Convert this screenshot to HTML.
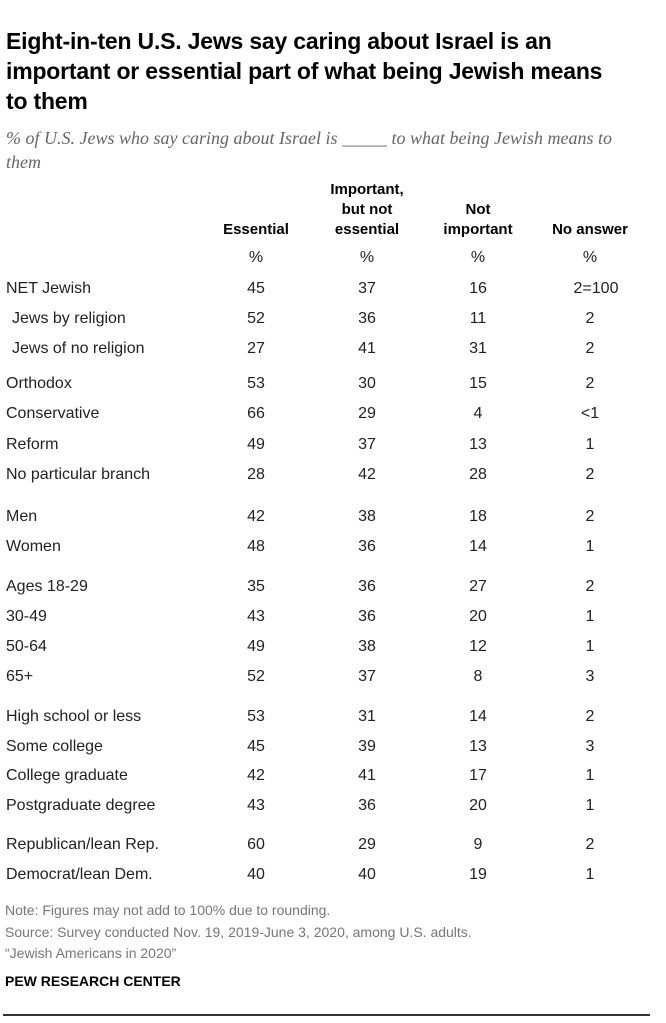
<!DOCTYPE html>
<html><head><meta charset="utf-8"><style>
body{margin:0;background:#fff;width:666px;height:1023px;position:relative;overflow:hidden;font-family:"Liberation Sans",sans-serif;color:#222}
.a{position:absolute;white-space:nowrap}
h1{position:absolute;left:6px;top:26px;width:600px;margin:0;font-size:23px;line-height:30px;font-weight:bold;color:#000;letter-spacing:-0.2px}
.sub{left:6px;top:126px;font-family:"Liberation Serif",serif;font-style:italic;font-size:18px;line-height:24px;color:#666;white-space:normal;width:625px}
.hd{font-weight:bold;font-size:15px;line-height:20px;text-align:center;transform:translateX(-50%);color:#000}
.c{transform:translateX(-50%);font-size:16px;text-align:center}
.l{font-size:16px}
.n{font-size:14px;color:#777;left:5px}
</style></head><body>
<h1>Eight-in-ten U.S. Jews say caring about Israel is an important or essential part of what being Jewish means to them</h1>
<div class="a sub">% of U.S. Jews who say caring about Israel is _____ to what being Jewish means to them</div>
<div id="tbl"></div>
<div class="a n" style="top:902px">Note: Figures may not add to 100% due to rounding.</div>
<div class="a n" style="top:924px">Source: Survey conducted Nov. 19, 2019-June 3, 2020, among U.S. adults.</div>
<div class="a n" style="top:945px">“Jewish Americans in 2020”</div>
<div class="a" style="left:5px;top:973px;font-size:14px;font-weight:bold;color:#000">PEW RESEARCH CENTER</div>
<div class="a" style="left:3px;top:1014px;width:647px;height:2px;background:#333"></div>
<script>
const headers=[["Essential"],["Important,","but not","essential"],["Not","important"],["No answer"]];
const rowLabels=["NET Jewish"," Jews by religion"," Jews of no religion","Orthodox","Conservative","Reform","No particular branch","Men","Women","Ages 18-29","30-49","50-64","65+","High school or less","Some college","College graduate","Postgraduate degree","Republican/lean Rep.","Democrat/lean Dem."];
const essential=["45","52","27","53","66","49","28","42","48","35","43","49","52","53","45","42","43","60","40"];
const important=["37","36","41","30","29","37","42","38","36","36","36","38","37","31","39","41","36","29","40"];
const notImportant=["16","11","31","15","4","13","28","18","14","27","20","12","8","14","13","17","20","9","19"];
const noAnswer=["2=100","2","2","2","<1","1","2","2","1","2","1","1","3","2","3","1","1","2","1"];
const rowY=[280,310,340,375,405,436,466,508,538,578,608,638,668,708,738,767,797,836,866];
const colX=[256,367,478,590];
const t=document.getElementById('tbl');
function mk(cls,txt,x,y,name){const d=document.createElement('div');d.className='a '+cls;d.textContent=txt;d.style.left=x+'px';d.style.top=y+'px';


t.appendChild(d);return d;}
headers.forEach((h,i)=>{const top=240-h.length*20;const d=mk('hd','',colX[i],top,'column-header');d.innerHTML=h.join('<br>');
mk('c','%',colX[i],249,'percent-unit');});
const cols=[essential,important,notImportant,noAnswer];
rowLabels.forEach((lab,r)=>{const ind=lab.startsWith(' ');mk('l',lab.trim(),ind?12:6,rowY[r],'row-label');
cols.forEach((c,i)=>{let x=colX[i];if(i===3&&r===0)x=colX[i]+6;mk('c',c[r],x,rowY[r],'cell-value');});});
</script>
</body></html>
